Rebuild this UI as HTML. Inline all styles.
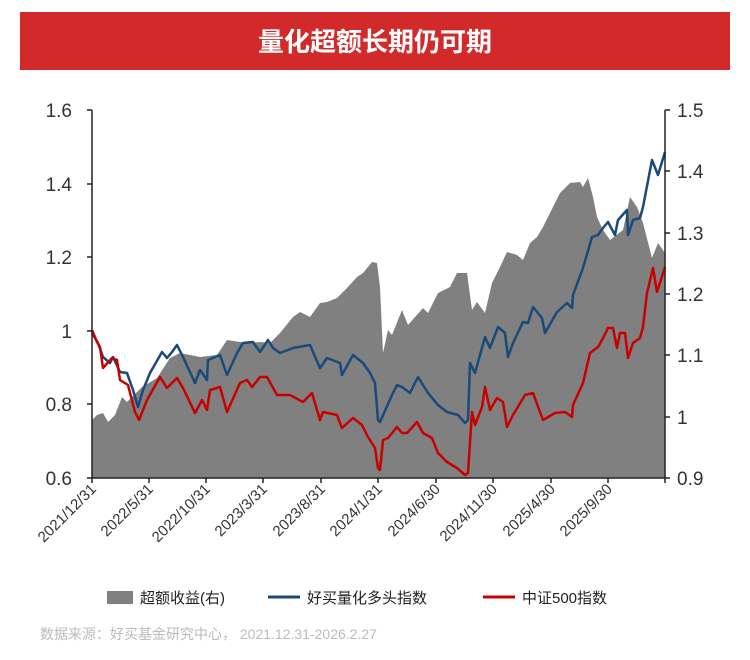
<!DOCTYPE html>
<html><head><meta charset="utf-8"><style>
body{margin:0;background:#fff;width:750px;height:655px;overflow:hidden;font-family:"Liberation Sans","Noto Sans CJK SC",sans-serif}
</style></head><body>
<svg width="750" height="655" xmlns="http://www.w3.org/2000/svg" font-family="Liberation Sans, Noto Sans CJK SC, sans-serif">
<rect x="20" y="12" width="710" height="58" fill="#d22a2a"/>
<text x="375" y="51" text-anchor="middle" fill="#fff" font-size="26" font-weight="bold">量化超额长期仍可期</text>
<polygon fill="#808080" points="92,478 92,420 97,415 103,413 108,422 115,415 122,397 127,402 142,387 157,378 170,358 180,353 200,357 217,355 227,340 247,343 260,342 270,343 280,333 293,317 300,312 310,317 320,303 327,302 337,298 347,288 357,277 363,273 372,262 377,263 380,287 383,353 388,330 392,335 402,310 408,325 423,308 428,313 438,293 450,287 457,273 467,273 472,310 477,302 485,313 492,283 500,267 507,252 517,255 523,260 530,243 537,237 543,227 550,213 560,193 570,183 580,182 583,187 588,178 593,197 597,217 603,230 610,240 623,230 630,197 637,207 643,223 652,258 658,243 665,253 665,478"/>
<polyline fill="none" stroke="#1a4a7a" stroke-width="2.5" stroke-linejoin="round" points="92,333 98,343 103,357 110,363 113,357 120,372 127,373 133,390 138,407 143,390 150,373 162,352 167,358 172,352 177,345 183,357 195,383 200,370 207,380 208,360 220,355 227,375 237,353 243,343 253,342 260,352 268,340 273,348 280,353 293,348 310,345 320,368 327,358 340,363 342,375 353,355 363,363 370,373 375,383 378,420 380,422 392,395 397,385 402,387 410,393 418,377 428,393 438,405 447,412 458,415 465,423 468,420 470,363 475,373 480,355 485,337 490,348 498,327 505,333 508,357 513,343 523,322 528,323 533,307 542,318 545,333 557,312 567,303 572,308 573,295 583,268 592,237 598,235 603,228 608,222 615,235 618,220 627,210 628,235 633,220 640,218 643,207 652,160 658,175 665,152"/>
<polyline fill="none" stroke="#c80000" stroke-width="2.5" stroke-linejoin="round" points="92,330 97,342 100,347 103,368 112,358 117,360 120,380 128,385 135,412 139,420 147,400 160,377 167,388 177,378 183,388 195,413 202,400 207,410 210,390 220,387 227,412 240,383 247,380 252,387 260,377 267,377 277,395 290,395 303,402 312,393 320,420 323,412 337,415 342,428 353,418 362,425 368,437 375,448 378,468 380,470 383,440 388,438 397,427 402,433 407,433 417,422 423,433 432,438 438,453 447,462 457,468 465,475 468,473 472,412 475,425 482,407 485,387 490,410 497,398 503,402 507,427 513,415 525,395 533,393 543,420 555,413 565,412 572,417 573,405 583,383 590,353 598,347 602,340 608,328 613,328 617,348 620,333 625,333 628,358 633,343 640,338 643,327 647,293 653,268 657,292 665,267"/>
<g stroke="#222" stroke-width="1.5" fill="none">
<path d="M92,110 V478 H665 V110"/>
<path d="M87,110H92M87,184H92M87,257H92M87,331H92M87,404H92M87,478H92"/>
<path d="M665,110H670M665,171H670M665,233H670M665,294H670M665,355H670M665,417H670M665,478H670"/>
<path d="M92,478v5M149,478v5M206,478v5M263,478v5M321,478v5M378,478v5M436,478v5M493,478v5M551,478v5M608,478v5M665,478v5"/>
</g>
<g font-size="19" fill="#333" text-anchor="end">
<text x="72" y="117">1.6</text><text x="72" y="191">1.4</text><text x="72" y="264">1.2</text><text x="72" y="338">1</text><text x="72" y="411">0.8</text><text x="72" y="485">0.6</text>
</g>
<g font-size="19" fill="#333">
<text x="677" y="117">1.5</text><text x="677" y="178">1.4</text><text x="677" y="240">1.3</text><text x="677" y="301">1.2</text><text x="677" y="362">1.1</text><text x="677" y="424">1</text><text x="677" y="485">0.9</text>
</g>
<g font-size="15" fill="#333" text-anchor="end">
<text transform="translate(97,490) rotate(-45)">2021/12/31</text>
<text transform="translate(154,490) rotate(-45)">2022/5/31</text>
<text transform="translate(211,490) rotate(-45)">2022/10/31</text>
<text transform="translate(268,490) rotate(-45)">2023/3/31</text>
<text transform="translate(326,490) rotate(-45)">2023/8/31</text>
<text transform="translate(383,490) rotate(-45)">2024/1/31</text>
<text transform="translate(441,490) rotate(-45)">2024/6/30</text>
<text transform="translate(498,490) rotate(-45)">2024/11/30</text>
<text transform="translate(556,490) rotate(-45)">2025/4/30</text>
<text transform="translate(613,490) rotate(-45)">2025/9/30</text>
</g>
<rect x="107" y="591" width="26" height="13" fill="#808080"/>
<text x="140" y="603" font-size="15" fill="#222">超额收益(右)</text>
<line x1="268" y1="597" x2="300" y2="597" stroke="#1a4a7a" stroke-width="3"/>
<text x="307" y="603" font-size="15" fill="#222">好买量化多头指数</text>
<line x1="483" y1="597" x2="515" y2="597" stroke="#c80000" stroke-width="3"/>
<text x="522" y="603" font-size="15" fill="#222">中证500指数</text>
<text x="40" y="639" font-size="14" fill="#bbb">数据来源：好买基金研究中心，  2021.12.31-2026.2.27</text>
</svg>
</body></html>
